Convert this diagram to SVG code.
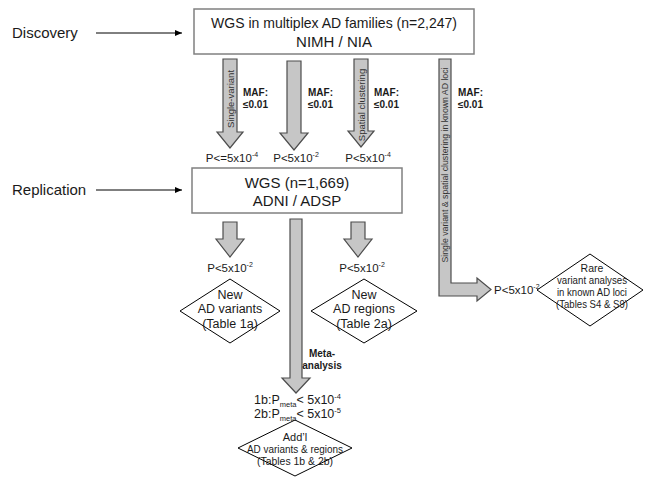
<svg xmlns="http://www.w3.org/2000/svg" width="645" height="479" viewBox="0 0 645 479">
<style>
text{font-family:"Liberation Sans",Arial,sans-serif;fill:#1a1a1a}
.lbl{font-size:15px}
.box{fill:#fff;stroke:#808080;stroke-width:1.5}
.blk{fill:#c6c6c6;stroke:#4d4d4d;stroke-width:1.2;stroke-linejoin:miter}
.dia{fill:#fff;stroke:#000;stroke-width:1}
.maf{font-size:10px;font-weight:bold}
.p{font-size:11.5px;text-anchor:middle}
.rot{font-size:9.5px;fill:#333;text-anchor:middle}
.dt{font-size:12.5px;text-anchor:middle}
.bt{font-size:15px;text-anchor:middle}
</style>
<defs>
<marker id="ah" markerWidth="8" markerHeight="8" refX="7" refY="4" orient="auto" markerUnits="userSpaceOnUse">
<path d="M0,1 L7,4 L0,7 Z" fill="#000"/>
</marker>
</defs>

<g id="stage-labels">
<text class="lbl" x="12" y="38">Discovery</text>
<text class="lbl" x="12" y="195">Replication</text>
</g>

<g id="node-discovery">
<rect class="box" x="194" y="9" width="280" height="45"/>
<text class="bt" x="334" y="28" textLength="246" lengthAdjust="spacingAndGlyphs">WGS in multiplex AD families (n=2,247)</text>
<text class="bt" x="334" y="47">NIMH / NIA</text>
</g>

<g id="node-replication">
<rect class="box" x="192" y="168" width="210" height="45"/>
<text class="bt" x="297" y="188">WGS (n=1,669)</text>
<text class="bt" x="297" y="206">ADNI / ADSP</text>
</g>

<g id="node-new-variants">
<polygon class="dia" points="230,279 280,311 230,343 180,311"/>
<text class="dt" x="230" y="299">New</text>
<text class="dt" x="230" y="313">AD variants</text>
<text class="dt" x="230" y="328">(Table 1a)</text>
</g>

<g id="node-new-regions">
<polygon class="dia" points="364,279 417,311 364,343 311,311"/>
<text class="dt" x="364" y="299">New</text>
<text class="dt" x="364" y="313">AD regions</text>
<text class="dt" x="364" y="328">(Table 2a)</text>
</g>

<g id="node-addl">
<polygon class="dia" points="295,420 352,448 295,476 238,448"/>
<text class="dt" style="font-size:11px" x="295" y="441">Add’l</text>
<text class="dt" style="font-size:11px" x="295" y="453" textLength="96" lengthAdjust="spacingAndGlyphs">AD variants &amp; regions</text>
<text class="dt" style="font-size:11px" x="295" y="465" textLength="76" lengthAdjust="spacingAndGlyphs">(Tables 1b &amp; 2b)</text>
</g>

<g id="node-rare">
<polygon class="dia" points="590,254 643,290 590,326 537,290"/>
<text class="dt" style="font-size:10.5px" x="592" y="272">Rare</text>
<text class="dt" style="font-size:10.5px" x="592" y="284" textLength="70" lengthAdjust="spacingAndGlyphs">variant analyses</text>
<text class="dt" style="font-size:10.5px" x="592" y="296" textLength="70" lengthAdjust="spacingAndGlyphs">in known AD loci</text>
<text class="dt" style="font-size:10.5px" x="592" y="308" textLength="72" lengthAdjust="spacingAndGlyphs">(Tables S4 &amp; S9)</text>
</g>

<g id="connectors">
<line x1="96" y1="33" x2="182" y2="33" stroke="#000" stroke-width="1" marker-end="url(#ah)"/>
<line x1="96" y1="190" x2="182" y2="190" stroke="#000" stroke-width="1" marker-end="url(#ah)"/>

<path class="blk" d="M223,59 H237 V132 H243 L230,148 L217,132 H223 Z"/>
<path class="blk" d="M287,61 H301 V133 H308 L294,150 L280,133 H287 Z"/>
<path class="blk" d="M354,59 H368 V131 H374 L361,147 L348,131 H354 Z"/>
<path class="blk" d="M439,59 H451 V283 H477 V278 L491,289.5 L477,301 V296 H439 Z"/>
<path class="blk" d="M223,222 H237 V239 H244 L230,257 L216,239 H223 Z"/>
<path class="blk" d="M351,222 H365 V239 H372 L358,257 L344,239 H351 Z"/>
<path class="blk" d="M290,219 H302 V378 H310 L296,393 L282,378 H290 Z"/>

<text class="rot" transform="translate(233.5,99) rotate(-90)">Single-variant</text>
<text class="rot" transform="translate(364.5,105) rotate(-90)">Spatial clustering</text>
<text class="rot" style="font-size:9px" transform="translate(448,165) rotate(-90)" textLength="195" lengthAdjust="spacingAndGlyphs">Single variant &amp; spatial clustering in known AD loci</text>

<text class="maf" x="243" y="96">MAF:</text><text class="maf" x="243" y="108">≤0.01</text>
<text class="maf" x="308" y="96">MAF:</text><text class="maf" x="308" y="108">≤0.01</text>
<text class="maf" x="374" y="96">MAF:</text><text class="maf" x="374" y="108">≤0.01</text>
<text class="maf" x="458" y="96">MAF:</text><text class="maf" x="458" y="108">≤0.01</text>

<text class="p" x="232" y="162">P&lt;=5x10<tspan font-size="7" dy="-5">-4</tspan></text>
<text class="p" x="296" y="162">P&lt;5x10<tspan font-size="7" dy="-5">-2</tspan></text>
<text class="p" x="368" y="162">P&lt;5x10<tspan font-size="7" dy="-5">-4</tspan></text>
<text class="p" x="230" y="272">P&lt;5x10<tspan font-size="7" dy="-5">-2</tspan></text>
<text class="p" x="362" y="272">P&lt;5x10<tspan font-size="7" dy="-5">-2</tspan></text>
<text class="p" style="text-anchor:start" x="494" y="294">P&lt;5x10<tspan font-size="7" dy="-5">-2</tspan></text>

<text class="maf" x="322" y="357" text-anchor="middle">Meta-</text>
<text class="maf" x="322" y="369" text-anchor="middle">analysis</text>

<text class="p" style="text-anchor:start;font-size:12.5px" x="254" y="404">1b:P<tspan font-size="7.5" dy="3">meta</tspan><tspan dy="-3">&lt; 5x10</tspan><tspan font-size="7.5" dy="-5">-4</tspan></text>
<text class="p" style="text-anchor:start;font-size:12.5px" x="254" y="418">2b:P<tspan font-size="7.5" dy="3">meta</tspan><tspan dy="-3">&lt; 5x10</tspan><tspan font-size="7.5" dy="-5">-5</tspan></text>
</g>
</svg>
